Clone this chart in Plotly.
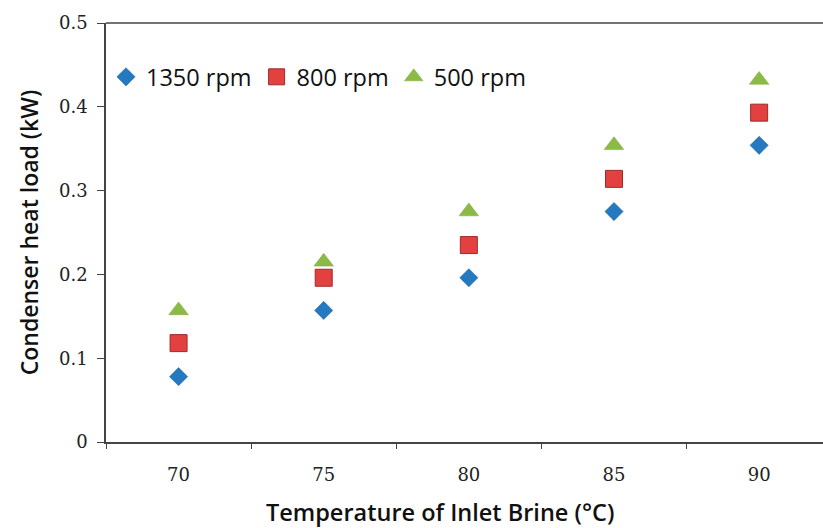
import plotly.graph_objects as go

temps = ["70", "75", "80", "85", "90"]
rpm1350 = [0.078, 0.157, 0.196, 0.275, 0.354]
rpm800 = [0.118, 0.196, 0.235, 0.314, 0.393]
rpm500 = [0.157, 0.215, 0.275, 0.354, 0.432]

fig = go.Figure()
fig.add_trace(go.Scatter(x=temps, y=rpm1350, mode="markers", name="1350 rpm",
                         marker=dict(symbol="diamond", size=14, color="#2479c0",
                                     line=dict(color="#1f5f99", width=0.5))))
fig.add_trace(go.Scatter(x=temps, y=rpm800, mode="markers", name="800 rpm",
                         marker=dict(symbol="square", size=17, color="#e2413f",
                                     line=dict(color="#9e2b2a", width=1))))
fig.add_trace(go.Scatter(x=temps, y=rpm500, mode="markers", name="500 rpm",
                         marker=dict(symbol="triangle-up", size=17, color="#8cbb45",
                                     line=dict(color="#7aa63a", width=0.5))))

fig.update_layout(
    width=823, height=528,
    margin=dict(l=106, r=0, t=23, b=86),
    paper_bgcolor="white", plot_bgcolor="white",
    font=dict(family="Open Sans", color="#111111"),
    legend=dict(orientation="h", x=0.0, xanchor="left", y=0.871, yanchor="middle",
                bgcolor="rgba(0,0,0,0)", font=dict(size=23.5, family="Open Sans"),
                itemclick=False),
    showlegend=True,
)
fig.update_xaxes(
    type="category", range=[-0.5, 4.44],
    tickson="boundaries", ticks="outside", ticklen=5, tickcolor="#444",
    showline=True, linecolor="#444", linewidth=1.5, mirror=False,
    showgrid=False, zeroline=False, ticklabelstandoff=16,
    tickfont=dict(family="DejaVu Serif", size=18, color="#222"),
)
fig.update_yaxes(
    range=[0, 0.5], tickvals=[0, 0.1, 0.2, 0.3, 0.4, 0.5],
    ticktext=["0", "0.1", "0.2", "0.3", "0.4", "0.5"],
    ticks="outside", ticklen=7, tickcolor="#444",
    showline=True, linecolor="#444", linewidth=1.5,
    showgrid=False, zeroline=False, ticklabelstandoff=6,
    tickfont=dict(family="DejaVu Serif", size=18, color="#222"),
    title=dict(text="Condenser heat load (kW)", standoff=14,
               font=dict(size=23, family="Open Sans", weight=600)),
)
# x axis title, centred under the whole chart as in the reference
fig.add_annotation(text="Temperature of Inlet Brine (°C)", xref="paper", yref="paper",
                   x=0.466, y=-0.168, xanchor="center", yanchor="middle",
                   showarrow=False, font=dict(size=23.5, family="Open Sans", weight=600,
                                              color="#111111"))
# top border line of plot area
fig.add_shape(type="line", xref="paper", yref="paper", x0=0, x1=1, y0=1, y1=1,
              line=dict(color="#444", width=1.5))

fig.write_html("out.html")
